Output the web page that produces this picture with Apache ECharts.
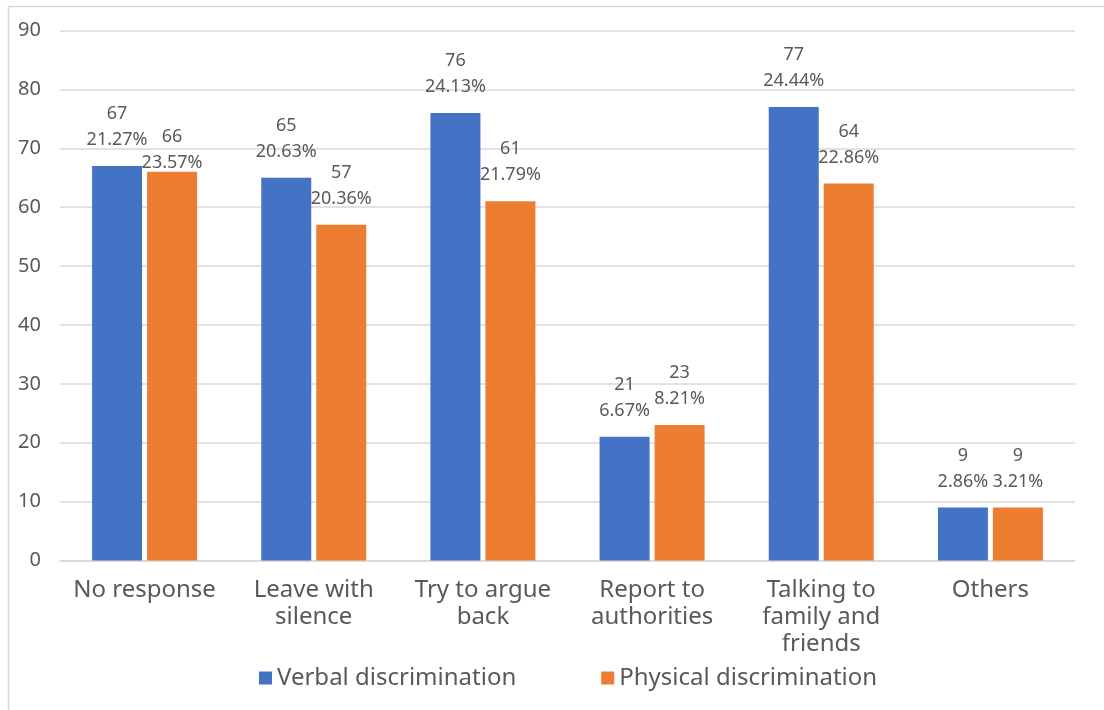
<!DOCTYPE html>
<html>
<head>
<meta charset="utf-8">
<script src="https://cdn.jsdelivr.net/npm/echarts@6/dist/echarts.min.js"></script>
<style>html,body{margin:0;padding:0;background:#fff;}#c{width:1104px;height:710px;}</style>
</head>
<body>
<div id="c"></div>
<script>
const categories = ["No response", "Leave with\nsilence", "Try to argue\nback", "Report to\nauthorities", "Talking to\nfamily and\nfriends", "Others"];
const verbal = [67, 65, 76, 21, 77, 9];
const physical = [66, 57, 61, 23, 64, 9];
const verbalPct = ["21.27%", "20.63%", "24.13%", "6.67%", "24.44%", "2.86%"];
const physicalPct = ["23.57%", "20.36%", "21.79%", "8.21%", "22.86%", "3.21%"];
const yTicks = [0, 10, 20, 30, 40, 50, 60, 70, 80, 90];

const FONT = '"Noto Sans", sans-serif';
const TXT = '#595959';

function makeData(vals, pcts, specialIdx) {
  return vals.map((v, i) => {
    const d = { value: v, pct: pcts[i] };
    if (i === specialIdx) d.label = { offset: [0, 17] };
    return d;
  });
}

const chart = echarts.init(document.getElementById('c'), null, { renderer: 'canvas' });
const labelCfg = {
  show: true,
  position: 'top',
  distance: 13,
  fontFamily: FONT,
  fontSize: 18,
  lineHeight: 26,
  color: TXT,
  formatter: p => p.value + '\n' + p.data.pct
};
chart.setOption({
  animation: false,
  backgroundColor: '#fff',
  graphic: [{
    type: 'rect',
    shape: { x: 8.5, y: 6.5, width: 1300, height: 900 },
    style: { fill: 'none', stroke: '#D9D9D9', lineWidth: 1.5 },
    silent: true
  }],
  grid: { left: 60, right: 29, top: 30.5, bottom: 149.5, containLabel: false },
  legend: {
    left: 254,
    top: 661,
    padding: 5,
    itemWidth: 13,
    itemHeight: 13,
    itemGap: 85,
    icon: 'rect',
    textStyle: { fontFamily: FONT, fontSize: 24, color: TXT },
    data: ['Verbal discrimination', 'Physical discrimination']
  },
  xAxis: {
    type: 'category',
    data: categories,
    axisLine: { show: true, lineStyle: { color: '#D9D9D9', width: 1.5 } },
    axisTick: { show: false },
    axisLabel: {
      interval: 0,
      margin: 16,
      fontFamily: FONT,
      fontSize: 24,
      lineHeight: 27,
      color: TXT
    }
  },
  yAxis: {
    type: 'value',
    min: yTicks[0],
    max: yTicks[yTicks.length - 1],
    interval: 10,
    axisLine: { show: false },
    axisTick: { show: false },
    splitLine: { lineStyle: { color: '#D9D9D9', width: 1.5 } },
    axisLabel: { margin: 19, fontFamily: FONT, fontSize: 20, color: TXT }
  },
  series: [
    {
      name: 'Verbal discrimination',
      type: 'bar',
      barWidth: 50,
      barGap: '10%',
      itemStyle: { color: '#4472C4' },
      label: labelCfg,
      data: makeData(verbal, verbalPct, -1)
    },
    {
      name: 'Physical discrimination',
      type: 'bar',
      barWidth: 50,
      barGap: '10%',
      itemStyle: { color: '#ED7D31' },
      label: labelCfg,
      data: makeData(physical, physicalPct, 0)
    }
  ]
});
</script>
</body>
</html>
